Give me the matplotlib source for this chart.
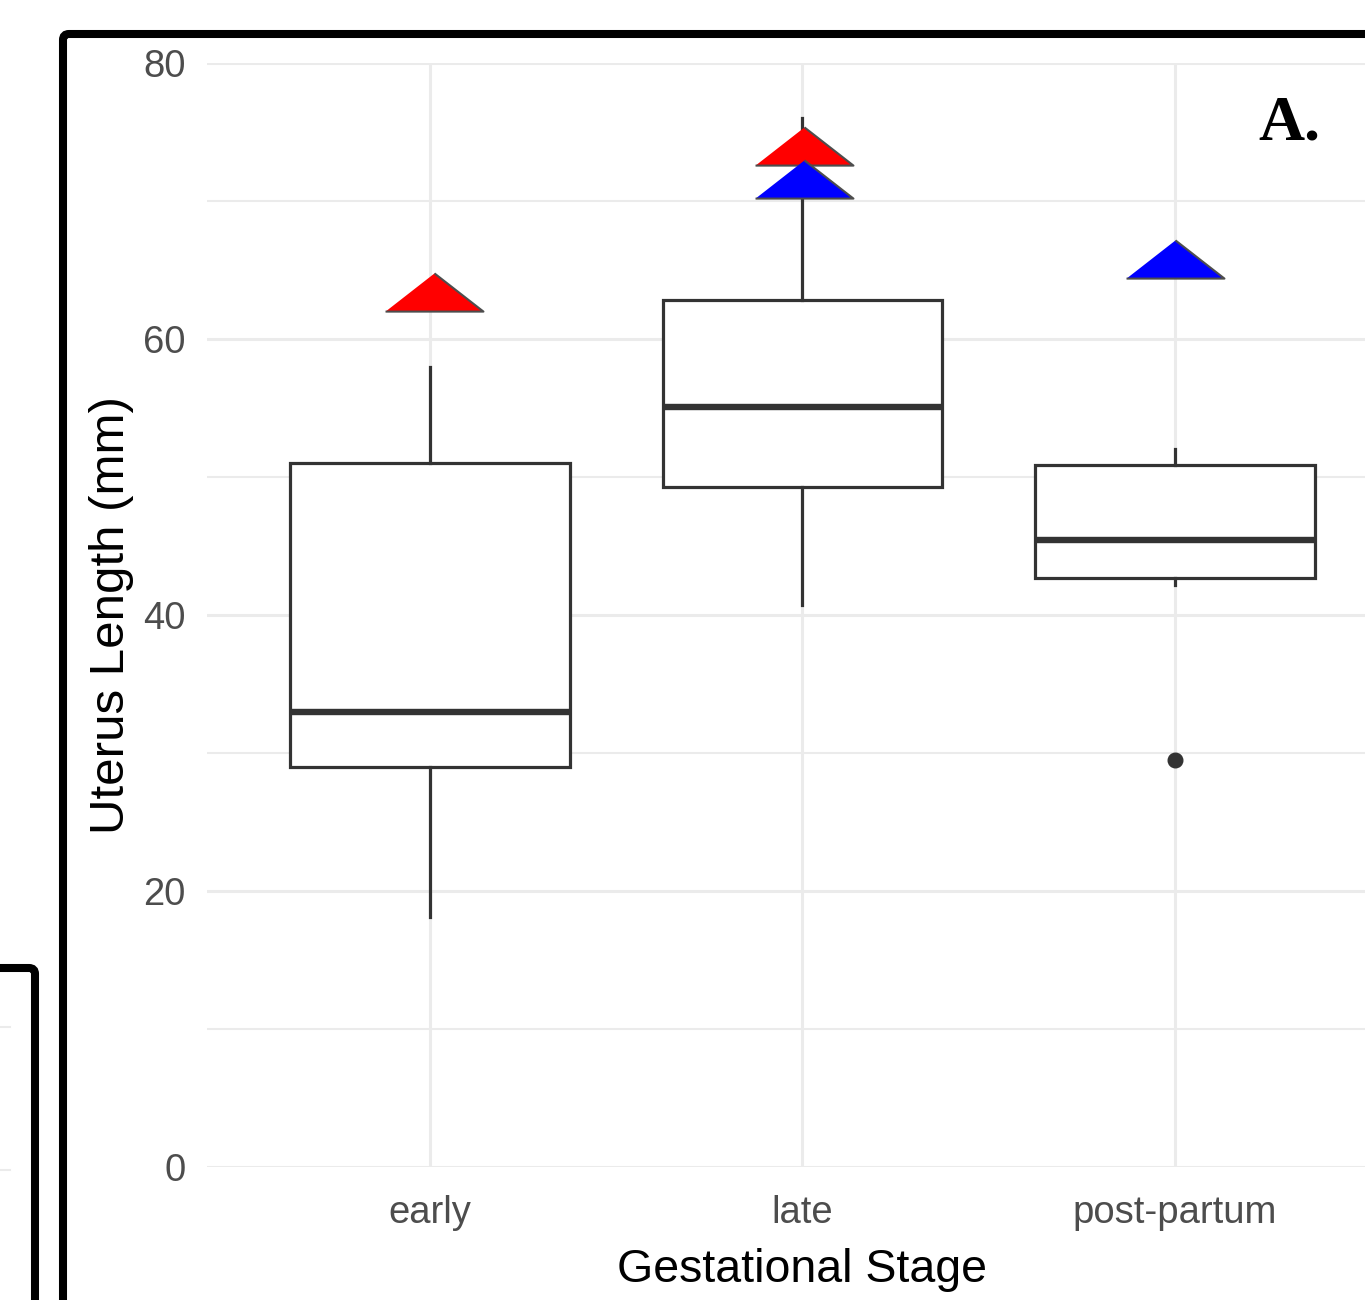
import matplotlib.pyplot as plt
from matplotlib.lines import Line2D
from matplotlib.patches import FancyBboxPatch

plt.rcParams["font.family"] = ["Liberation Sans", "DejaVu Sans"]

# data
STAGES = ["early", "late", "post-partum"]
WHISK_LO = [18.1, 40.7, 42.2]
Q1 = [29.0, 49.3, 42.7]
MEDIAN = [33.0, 55.1, 45.4]
Q3 = [51.0, 62.8, 50.9]
WHISK_HI = [58.0, 76.0, 52.0]
OUTLIERS = [[], [], [29.5]]

# triangle markers (two groups)
RED_X = [1.012, 2.005]
RED_Y = [63.4, 74.0]
BLUE_X = [2.005, 3.0]
BLUE_Y = [71.6, 65.8]

GRID = "#EBEBEB"
INK = "#333333"

fig = plt.figure(figsize=(13.65, 13.0), dpi=100)
ax = fig.add_axes([206.5 / 1365, 1 - 1167 / 1300, 1192 / 1365, 1104 / 1300])

stats = []
for i, name in enumerate(STAGES):
    stats.append(dict(label=name, whislo=WHISK_LO[i], q1=Q1[i], med=MEDIAN[i],
                      q3=Q3[i], whishi=WHISK_HI[i], fliers=OUTLIERS[i]))

ax.bxp(stats, positions=[1, 2, 3], widths=0.75, showcaps=False, patch_artist=True,
       boxprops=dict(facecolor="white", edgecolor=INK, linewidth=2.3),
       medianprops=dict(color=INK, linewidth=4.6, solid_capstyle="butt"),
       whiskerprops=dict(color=INK, linewidth=2.3),
       flierprops=dict(marker="o", markerfacecolor=INK, markeredgecolor=INK,
                       markersize=10.5),
       zorder=3)

tri = [(-1.0, -0.39), (1.0, -0.39), (0.0, 0.39)]
ax.scatter(RED_X, RED_Y, marker=tri, s=70.5 ** 2, c="#FF0000",
           edgecolors="#4D4D4D", linewidths=1.5, zorder=5, clip_on=False)
ax.scatter(BLUE_X, BLUE_Y, marker=tri, s=70.5 ** 2, c="#0000FF",
           edgecolors="#4D4D4D", linewidths=1.5, zorder=6, clip_on=False)

ax.set_xlim(0.4, 3.6)
ax.set_ylim(0, 80)
ax.set_yticks([0, 20, 40, 60, 80])
ax.set_yticks([10, 30, 50, 70], minor=True)
ax.set_xticks([1, 2, 3])
ax.set_xticklabels(STAGES)
ax.grid(True, which="major", color=GRID, linewidth=2.2)
ax.grid(True, which="minor", axis="y", color=GRID, linewidth=1.5)
ax.set_axisbelow(True)
for s in ax.spines.values():
    s.set_visible(False)
ax.tick_params(which="both", length=0, labelsize=27.5, labelcolor="#4D4D4D")
ax.tick_params(axis="y", pad=15)
ax.tick_params(axis="x", pad=20)

ax.set_ylabel("Uterus Length (mm)", fontsize=35.5, color="black")
ax.yaxis.set_label_coords(-0.0793, 0.5)
ax.yaxis.label.set_va("center")
ax.set_xlabel("Gestational Stage", fontsize=33.5, color="black")
ax.xaxis.set_label_coords(0.5, -0.0933)
ax.xaxis.label.set_va("center")

fig.text(1289 / 1365, 1 - 125 / 1300, "A.", fontsize=46, fontweight="bold",
         family="Liberation Serif", ha="center", va="center")

# panel frames
fig.patches.append(FancyBboxPatch((0.63, -1.0), 20, 12.66 + 1.0,
                                  boxstyle="round,pad=0,rounding_size=0.06",
                                  transform=fig.dpi_scale_trans, fill=False,
                                  edgecolor="black", linewidth=5.8))
fig.patches.append(FancyBboxPatch((-2.0, -1.0), 2.35, 3.32 + 1.0,
                                  boxstyle="round,pad=0,rounding_size=0.06",
                                  transform=fig.dpi_scale_trans, fill=False,
                                  edgecolor="black", linewidth=5.8))

# faint gridline stubs of the neighbouring panel
for yy in (1027, 1170):
    fig.lines.append(Line2D([0, 0.1], [(1300 - yy) / 100] * 2,
                            transform=fig.dpi_scale_trans, color=GRID, linewidth=1.5))

fig.savefig("out.png", dpi=100)
